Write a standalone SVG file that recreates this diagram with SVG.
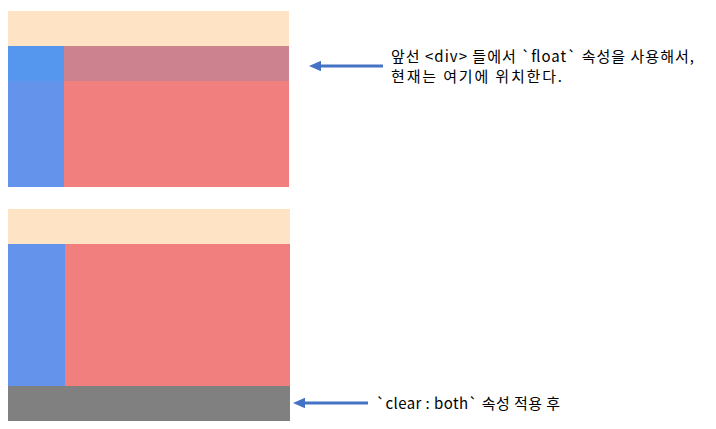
<svg xmlns="http://www.w3.org/2000/svg" width="716" height="429" viewBox="0 0 716 429">
<defs>
<marker id="ah" viewBox="0 0 10 10" refX="0" refY="5" markerWidth="4" markerHeight="3.5" orient="auto-start-reverse" markerUnits="strokeWidth" preserveAspectRatio="none">
<path d="M0,0 L10,5 L0,10 Z" fill="#4472C4"/>
</marker>
</defs>
<style>
.tan{fill:#FEE3C4}
.blue{fill:#6493EB}
.red{fill:#F07F7D}
.lbl{font-family:"Noto Sans CJK KR","Liberation Sans",sans-serif;font-size:15px;fill:#000}
.conn{stroke:#4472C4;stroke-width:3;fill:none}
</style>
<rect width="716" height="429" fill="#fff"/>
<g id="top">
<rect class="tan" x="8" y="11" width="281" height="35"/>
<rect class="blue" x="8" y="46" width="56" height="141"/>
<rect class="red" x="64" y="46" width="225" height="141"/>
<rect x="8" y="46" width="56" height="35" fill="#5597EE"/>
<rect x="64" y="46" width="225" height="35" fill="#CD838F"/>
</g>
<g id="bottom">
<rect class="tan" x="8" y="209" width="282" height="35"/>
<rect class="blue" x="8" y="244" width="57" height="142"/>
<rect class="red" x="65" y="244" width="225" height="142"/>
<rect x="8" y="386" width="282" height="35" fill="#808080"/>
</g>
<g id="connectors">
<line class="conn" x1="383" y1="66" x2="321" y2="66" marker-end="url(#ah)"/>
<line class="conn" x1="368" y1="403" x2="305" y2="403" marker-end="url(#ah)"/>
</g>
<g id="label1">
<text class="lbl" x="391" y="62" textLength="303" lengthAdjust="spacing">앞선 &lt;div&gt; 들에서 `float` 속성을 사용해서,</text>
<text class="lbl" x="391" y="82" textLength="171" lengthAdjust="spacing">현재는 여기에 위치한다.</text>
</g>
<g id="label2">
<text class="lbl" x="376" y="409" textLength="184" lengthAdjust="spacing">`clear : both` 속성 적용 후</text>
</g>
</svg>
